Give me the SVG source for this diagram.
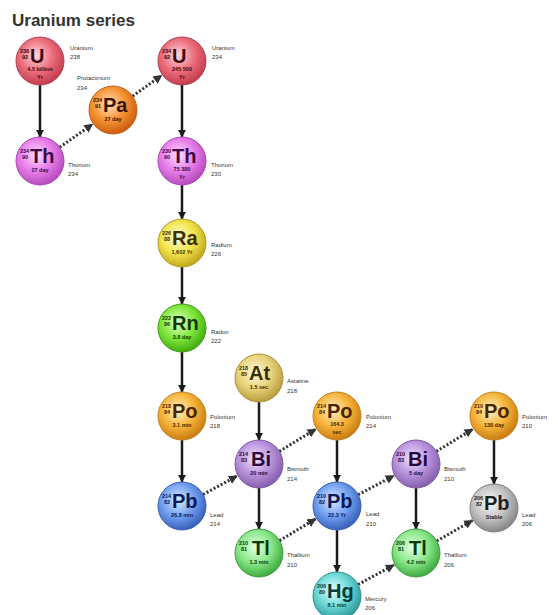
<svg xmlns="http://www.w3.org/2000/svg" width="558" height="615" viewBox="0 0 558 615">
<style>
.title{font-family:"Liberation Sans",Arial,sans-serif;font-weight:bold;font-size:17px;fill:#333}
.sym{font-family:"Liberation Sans",Arial,sans-serif;font-weight:bold;font-size:20px}
.num{font-family:"Liberation Sans",Arial,sans-serif;font-weight:bold;font-size:5.5px}
.hl{font-family:"Liberation Sans",Arial,sans-serif;font-weight:bold;font-size:5.5px;text-anchor:middle}
.lbl{font-family:"Liberation Sans",Arial,sans-serif;font-size:6px;fill:#333}
.ball{stroke-width:1}
.solid{stroke:#1a1a1a;stroke-width:2.5;fill:none}
.dot{stroke:#333;stroke-width:3;stroke-dasharray:2 2;fill:none}
</style>
<defs>
<marker id="ah" viewBox="0 0 10 10" refX="9" refY="5" markerWidth="3.2" markerHeight="3.2" orient="auto" markerUnits="strokeWidth"><path d="M0,0 L10,5 L0,10 z" fill="#1a1a1a"/></marker>
<marker id="ahd" viewBox="0 0 10 10" refX="9" refY="5" markerWidth="3" markerHeight="3" orient="auto" markerUnits="strokeWidth"><path d="M0,0 L10,5 L0,10 z" fill="#333"/></marker>
<radialGradient id="gU" cx="42%" cy="38%" r="62%"><stop offset="0" stop-color="#ffd6de"/><stop offset="0.55" stop-color="#ec6d7c"/><stop offset="1" stop-color="#c43e50"/></radialGradient>
<radialGradient id="gTh" cx="42%" cy="38%" r="62%"><stop offset="0" stop-color="#ffdcff"/><stop offset="0.55" stop-color="#e67ee8"/><stop offset="1" stop-color="#b84cc0"/></radialGradient>
<radialGradient id="gPa" cx="42%" cy="38%" r="62%"><stop offset="0" stop-color="#ffe2b8"/><stop offset="0.55" stop-color="#f59334"/><stop offset="1" stop-color="#cc5e0e"/></radialGradient>
<radialGradient id="gRa" cx="42%" cy="38%" r="62%"><stop offset="0" stop-color="#fffbd6"/><stop offset="0.55" stop-color="#f2e44c"/><stop offset="1" stop-color="#c4aa1e"/></radialGradient>
<radialGradient id="gRn" cx="42%" cy="38%" r="62%"><stop offset="0" stop-color="#e4ffc8"/><stop offset="0.55" stop-color="#80e83c"/><stop offset="1" stop-color="#44ae12"/></radialGradient>
<radialGradient id="gPo" cx="42%" cy="38%" r="62%"><stop offset="0" stop-color="#fff2c6"/><stop offset="0.55" stop-color="#f6b53c"/><stop offset="1" stop-color="#cc7e10"/></radialGradient>
<radialGradient id="gAt" cx="42%" cy="38%" r="62%"><stop offset="0" stop-color="#fff9dc"/><stop offset="0.55" stop-color="#e9d37c"/><stop offset="1" stop-color="#bc9e3e"/></radialGradient>
<radialGradient id="gBi" cx="42%" cy="38%" r="62%"><stop offset="0" stop-color="#f2e4ff"/><stop offset="0.55" stop-color="#b993dc"/><stop offset="1" stop-color="#8660ae"/></radialGradient>
<radialGradient id="gPb" cx="42%" cy="38%" r="62%"><stop offset="0" stop-color="#dceaff"/><stop offset="0.55" stop-color="#72a0f0"/><stop offset="1" stop-color="#3a62bc"/></radialGradient>
<radialGradient id="gTl" cx="42%" cy="38%" r="62%"><stop offset="0" stop-color="#e4ffe4"/><stop offset="0.55" stop-color="#8ae88a"/><stop offset="1" stop-color="#40ac40"/></radialGradient>
<radialGradient id="gHg" cx="42%" cy="38%" r="62%"><stop offset="0" stop-color="#e2ffff"/><stop offset="0.55" stop-color="#6ed8d8"/><stop offset="1" stop-color="#2e9c9c"/></radialGradient>
<radialGradient id="gPbs" cx="42%" cy="38%" r="62%"><stop offset="0" stop-color="#fafafa"/><stop offset="0.55" stop-color="#c4c4c4"/><stop offset="1" stop-color="#888"/></radialGradient>
</defs>
<rect width="558" height="615" fill="#fff"/>
<text class="title" x="12" y="26">Uranium series</text>

<g id="connectors">
<line class="solid" x1="40" y1="85" x2="40" y2="137" marker-end="url(#ah)"/>
<line class="solid" x1="182" y1="85" x2="182" y2="137" marker-end="url(#ah)"/>
<line class="solid" x1="182" y1="185" x2="182" y2="219" marker-end="url(#ah)"/>
<line class="solid" x1="182" y1="267" x2="182" y2="304" marker-end="url(#ah)"/>
<line class="solid" x1="182" y1="352" x2="182" y2="392" marker-end="url(#ah)"/>
<line class="solid" x1="182" y1="440" x2="182" y2="482" marker-end="url(#ah)"/>
<line class="solid" x1="259" y1="402" x2="259" y2="440" marker-end="url(#ah)"/>
<line class="solid" x1="259" y1="488" x2="259" y2="529" marker-end="url(#ah)"/>
<line class="solid" x1="337" y1="440" x2="337" y2="482" marker-end="url(#ah)"/>
<line class="solid" x1="337" y1="530" x2="337" y2="572" marker-end="url(#ah)"/>
<line class="solid" x1="416" y1="488" x2="416" y2="529" marker-end="url(#ah)"/>
<line class="solid" x1="494" y1="440" x2="494" y2="484" marker-end="url(#ah)"/>
<line class="dot" x1="59.7" y1="147.2" x2="92.5" y2="124.3" marker-end="url(#ahd)"/>
<line class="dot" x1="132.6" y1="96.1" x2="161.6" y2="75.5" marker-end="url(#ahd)"/>
<line class="dot" x1="203.1" y1="494.5" x2="237" y2="476" marker-end="url(#ahd)"/>
<line class="dot" x1="279.4" y1="451.4" x2="315.7" y2="429.1" marker-end="url(#ahd)"/>
<line class="dot" x1="279.5" y1="540.6" x2="315.6" y2="518.9" marker-end="url(#ahd)"/>
<line class="dot" x1="358.2" y1="494.7" x2="393.9" y2="475.7" marker-end="url(#ahd)"/>
<line class="dot" x1="436.4" y1="451.4" x2="472.7" y2="429.1" marker-end="url(#ahd)"/>
<line class="dot" x1="358.1" y1="584.5" x2="394" y2="565" marker-end="url(#ahd)"/>
<line class="dot" x1="436.8" y1="541" x2="472.4" y2="520.5" marker-end="url(#ahd)"/>
</g>

<g id="U238" transform="translate(40,61)">
<circle class="ball" r="24" fill="url(#gU)" stroke="#b04050"/>
<g fill="#3a0a12"><text class="num" x="-20" y="-8">238</text><text class="num" x="-18" y="-2">92</text><text class="sym" x="-10" y="2">U</text>
<text class="hl" x="0" y="10">4.5 billion</text><text class="hl" x="0" y="18">Yr</text></g>
<text class="lbl" x="30" y="-11">Uranium</text><text class="lbl" x="30" y="-2">238</text>
</g>

<g id="Th234" transform="translate(40,161)">
<circle class="ball" r="24" fill="url(#gTh)" stroke="#a848b0"/>
<g fill="#3c0a44"><text class="num" x="-20" y="-8">234</text><text class="num" x="-18" y="-2">90</text><text class="sym" x="-10" y="2">Th</text>
<text class="hl" x="0" y="11">27 day</text></g>
<text class="lbl" x="28" y="6">Thorium</text><text class="lbl" x="28" y="15">234</text>
</g>

<g id="Pa234" transform="translate(113,110)">
<circle class="ball" r="24" fill="url(#gPa)" stroke="#c06020"/>
<g fill="#3a1600"><text class="num" x="-20" y="-8">234</text><text class="num" x="-18" y="-2">91</text><text class="sym" x="-10" y="2">Pa</text>
<text class="hl" x="0" y="11">27 day</text></g>
<text class="lbl" x="-36" y="-30">Protactinium</text><text class="lbl" x="-36" y="-20">234</text>
</g>

<g id="U234" transform="translate(182,61)">
<circle class="ball" r="24" fill="url(#gU)" stroke="#b04050"/>
<g fill="#3a0a12"><text class="num" x="-20" y="-8">234</text><text class="num" x="-18" y="-2">92</text><text class="sym" x="-10" y="2">U</text>
<text class="hl" x="0" y="10">245 500</text><text class="hl" x="0" y="18">Yr</text></g>
<text class="lbl" x="30" y="-11">Uranium</text><text class="lbl" x="30" y="-2">234</text>
</g>

<g id="Th230" transform="translate(182,161)">
<circle class="ball" r="24" fill="url(#gTh)" stroke="#a848b0"/>
<g fill="#3c0a44"><text class="num" x="-20" y="-8">230</text><text class="num" x="-18" y="-2">90</text><text class="sym" x="-10" y="2">Th</text>
<text class="hl" x="0" y="10">75 380</text><text class="hl" x="0" y="18">Yr</text></g>
<text class="lbl" x="29" y="6">Thorium</text><text class="lbl" x="29" y="15">230</text>
</g>

<g id="Ra226" transform="translate(182,243)">
<circle class="ball" r="24" fill="url(#gRa)" stroke="#b09a20"/>
<g fill="#3a3000"><text class="num" x="-20" y="-8">226</text><text class="num" x="-18" y="-2">88</text><text class="sym" x="-10" y="2">Ra</text>
<text class="hl" x="0" y="11">1,602 Yr</text></g>
<text class="lbl" x="29" y="4">Radium</text><text class="lbl" x="29" y="13">226</text>
</g>

<g id="Rn222" transform="translate(182,328)">
<circle class="ball" r="24" fill="url(#gRn)" stroke="#3e9a14"/>
<g fill="#123a00"><text class="num" x="-20" y="-8">222</text><text class="num" x="-18" y="-2">86</text><text class="sym" x="-10" y="2">Rn</text>
<text class="hl" x="0" y="11">3.8 day</text></g>
<text class="lbl" x="29" y="6">Radon</text><text class="lbl" x="29" y="15">222</text>
</g>

<g id="At218" transform="translate(259,378)">
<circle class="ball" r="24" fill="url(#gAt)" stroke="#a89040"/>
<g fill="#3a3000"><text class="num" x="-20" y="-8">218</text><text class="num" x="-18" y="-2">85</text><text class="sym" x="-10" y="2">At</text>
<text class="hl" x="0" y="11">1.5 sec</text></g>
<text class="lbl" x="28" y="5">Astatine</text><text class="lbl" x="28" y="15">218</text>
</g>

<g id="Po218" transform="translate(182,416)">
<circle class="ball" r="24" fill="url(#gPo)" stroke="#c08020"/>
<g fill="#4a2600"><text class="num" x="-20" y="-8">218</text><text class="num" x="-18" y="-2">84</text><text class="sym" x="-10" y="2">Po</text>
<text class="hl" x="0" y="11">3.1 min</text></g>
<text class="lbl" x="28" y="3">Polonium</text><text class="lbl" x="28" y="12">218</text>
</g>

<g id="Bi214" transform="translate(259,464)">
<circle class="ball" r="24" fill="url(#gBi)" stroke="#8058a8"/>
<g fill="#2a0a3c"><text class="num" x="-20" y="-8">214</text><text class="num" x="-18" y="-2">83</text><text class="sym" x="-8" y="2">Bi</text>
<text class="hl" x="0" y="11">20 min</text></g>
<text class="lbl" x="28" y="7">Bismuth</text><text class="lbl" x="28" y="17">214</text>
</g>

<g id="Po214" transform="translate(337,416)">
<circle class="ball" r="24" fill="url(#gPo)" stroke="#c08020"/>
<g fill="#4a2600"><text class="num" x="-20" y="-8">214</text><text class="num" x="-18" y="-2">84</text><text class="sym" x="-10" y="2">Po</text>
<text class="hl" x="0" y="10">164.3</text><text class="hl" x="0" y="18">sec</text></g>
<text class="lbl" x="29" y="3">Polonium</text><text class="lbl" x="29" y="12">214</text>
</g>

<g id="Pb214" transform="translate(182,506)">
<circle class="ball" r="24" fill="url(#gPb)" stroke="#3a60b0"/>
<g fill="#0a1a5a"><text class="num" x="-20" y="-8">214</text><text class="num" x="-18" y="-2">82</text><text class="sym" x="-10" y="2">Pb</text>
<text class="hl" x="0" y="11">26.8 min</text></g>
<text class="lbl" x="28" y="11">Lead</text><text class="lbl" x="28" y="20">214</text>
</g>

<g id="Tl210" transform="translate(259,553)">
<circle class="ball" r="24" fill="url(#gTl)" stroke="#40a040"/>
<g fill="#0a3a0a"><text class="num" x="-20" y="-8">210</text><text class="num" x="-18" y="-2">81</text><text class="sym" x="-7" y="2">Tl</text>
<text class="hl" x="0" y="11">1.3 min</text></g>
<text class="lbl" x="28" y="4">Thallium</text><text class="lbl" x="28" y="14">210</text>
</g>

<g id="Pb210" transform="translate(337,506)">
<circle class="ball" r="24" fill="url(#gPb)" stroke="#3a60b0"/>
<g fill="#0a1a5a"><text class="num" x="-20" y="-8">210</text><text class="num" x="-18" y="-2">82</text><text class="sym" x="-10" y="2">Pb</text>
<text class="hl" x="0" y="11">22.3 Yr</text></g>
<text class="lbl" x="29" y="10">Lead</text><text class="lbl" x="29" y="20">210</text>
</g>

<g id="Hg206" transform="translate(337,596)">
<circle class="ball" r="24" fill="url(#gHg)" stroke="#2e9090"/>
<g fill="#0a3a3a"><text class="num" x="-20" y="-8">206</text><text class="num" x="-18" y="-2">80</text><text class="sym" x="-10" y="2">Hg</text>
<text class="hl" x="0" y="11">8.1 min</text></g>
<text class="lbl" x="28" y="5">Mercury</text><text class="lbl" x="28" y="14">206</text>
</g>

<g id="Bi210" transform="translate(416,464)">
<circle class="ball" r="24" fill="url(#gBi)" stroke="#8058a8"/>
<g fill="#2a0a3c"><text class="num" x="-20" y="-8">210</text><text class="num" x="-18" y="-2">83</text><text class="sym" x="-8" y="2">Bi</text>
<text class="hl" x="0" y="11">5 day</text></g>
<text class="lbl" x="28" y="7">Bismuth</text><text class="lbl" x="28" y="17">210</text>
</g>

<g id="Po210" transform="translate(494,416)">
<circle class="ball" r="24" fill="url(#gPo)" stroke="#c08020"/>
<g fill="#4a2600"><text class="num" x="-20" y="-8">210</text><text class="num" x="-18" y="-2">84</text><text class="sym" x="-10" y="2">Po</text>
<text class="hl" x="0" y="11">138 day</text></g>
<text class="lbl" x="28" y="3">Polonium</text><text class="lbl" x="28" y="12">210</text>
</g>

<g id="Tl206" transform="translate(416,553)">
<circle class="ball" r="24" fill="url(#gTl)" stroke="#40a040"/>
<g fill="#0a3a0a"><text class="num" x="-20" y="-8">206</text><text class="num" x="-18" y="-2">81</text><text class="sym" x="-7" y="2">Tl</text>
<text class="hl" x="0" y="11">4.2 min</text></g>
<text class="lbl" x="28" y="4">Thallium</text><text class="lbl" x="28" y="14">206</text>
</g>

<g id="Pb206" transform="translate(494,508)">
<circle class="ball" r="24" fill="url(#gPbs)" stroke="#808080"/>
<g fill="#1e1e1e"><text class="num" x="-20" y="-8">206</text><text class="num" x="-18" y="-2">82</text><text class="sym" x="-10" y="2">Pb</text>
<text class="hl" x="0" y="11">Stable</text></g>
<text class="lbl" x="28" y="9">Lead</text><text class="lbl" x="28" y="18">206</text>
</g>
</svg>
